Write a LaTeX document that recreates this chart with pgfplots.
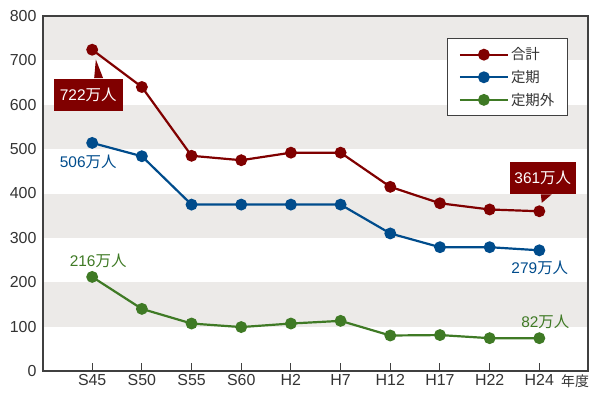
\documentclass[border=0pt]{standalone}
\usepackage{fontspec}
\setmainfont{Liberation Sans}
\newfontfamily\cjk{Noto Sans CJK JP}
\usepackage{pgfplots}
\pgfplotsset{compat=1.18}
\definecolor{cred}{RGB}{128,0,0}
\definecolor{cblue}{RGB}{0,76,140}
\definecolor{cgreen}{RGB}{63,122,37}
\definecolor{band}{RGB}{236,234,232}
\definecolor{axc}{RGB}{64,64,64}
\definecolor{txt}{RGB}{51,51,51}
\begin{document}
\begin{tikzpicture}[x=1bp,y=1bp]
\path[use as bounding box] (-43,-21) rectangle (547,371);
\begin{axis}[
  at={(0,0)}, anchor=south west,
  width=545bp, height=355bp, scale only axis,
  xmin=-0.99, xmax=9.98, ymin=0, ymax=800,
  xtick={0,...,9},
  xticklabels={S45,S50,S55,S60,H2,H7,H12,H17,H22,H24},
  extra x ticks={9.72},
  extra x tick labels={{\cjk\fontsize{14}{16}\selectfont 年度}},
  extra x tick style={major tick length=0pt},
  ytick={0,100,...,800},
  axis on top, clip=false,
  axis line style={axc, line width=1.2bp},
  tick align=inside, major tick length=8bp,
  xtick pos=bottom, ytick pos=left,
  x tick style={axc, line width=1bp},
  y tick style={draw=none},
  tick label style={font=\fontsize{16}{18}\selectfont, text=txt},
  yticklabel style={xshift=-3bp},
  /pgf/number format/assume math mode=true,
  legend style={at={(0.963,0.937)}, anchor=north east, draw=axc, line width=1bp,
    fill=white, font=\cjk\fontsize{14.5}{16}\selectfont, text=txt,
    inner xsep=11bp, inner ysep=7bp, row sep=5bp},
  legend cell align=left,
  legend image code/.code={\draw[mark repeat=2,mark phase=2,#1] plot coordinates {(0bp,0bp) (24bp,0bp) (48bp,0bp)};},
]
\fill[band] (axis cs:-0.99,100) rectangle (axis cs:9.98,200);
\fill[band] (axis cs:-0.99,300) rectangle (axis cs:9.98,400);
\fill[band] (axis cs:-0.99,500) rectangle (axis cs:9.98,600);
\fill[band] (axis cs:-0.99,700) rectangle (axis cs:9.98,800);

\addplot[cred, line width=2.2bp, mark=*, mark size=4.8bp] coordinates {
(0,724) (1,640) (2,485) (3,475) (4,492) (5,492) (6,415) (7,378) (8,364) (9,360)};
\addlegendentry{合計}
\addplot[cblue, line width=2.2bp, mark=*, mark size=4.8bp] coordinates {
(0,514) (1,484) (2,375) (3,375) (4,375) (5,375) (6,310) (7,279) (8,279) (9,272)};
\addlegendentry{定期}
\addplot[cgreen, line width=2.2bp, mark=*, mark size=4.8bp] coordinates {
(0,212) (1,140) (2,107) (3,99) (4,107) (5,113) (6,80) (7,81) (8,74) (9,74)};
\addlegendentry{定期外\hspace{8bp}}

% callouts
\fill[cred] (axis cs:0.04,660) -- (axis cs:0.22,660) -- (axis cs:0.074,702) -- cycle;
\node[fill=cred, text=white, font=\fontsize{15.5}{17}\selectfont, minimum height=32bp, inner xsep=6bp]
  at (axis cs:-0.08,622) {722{\cjk 万人}};
\fill[cred] (axis cs:9.03,398) -- (axis cs:9.25,398) -- (axis cs:9.05,379) -- cycle;
\node[fill=cred, text=white, font=\fontsize{15.5}{17}\selectfont, minimum height=32bp, inner xsep=4.5bp]
  at (axis cs:9.07,436) {361{\cjk 万人}};
\node[text=cblue, font=\fontsize{15.5}{17}\selectfont] at (axis cs:-0.08,471) {506{\cjk 万人}};
\node[text=cgreen, font=\fontsize{15.5}{17}\selectfont] at (axis cs:0.12,248) {216{\cjk 万人}};
\node[text=cblue, font=\fontsize{15.5}{17}\selectfont] at (axis cs:9.01,232) {279{\cjk 万人}};
\node[text=cgreen, font=\fontsize{15.5}{17}\selectfont] at (axis cs:9.12,111) {82{\cjk 万人}};
\end{axis}
\end{tikzpicture}
\end{document}
